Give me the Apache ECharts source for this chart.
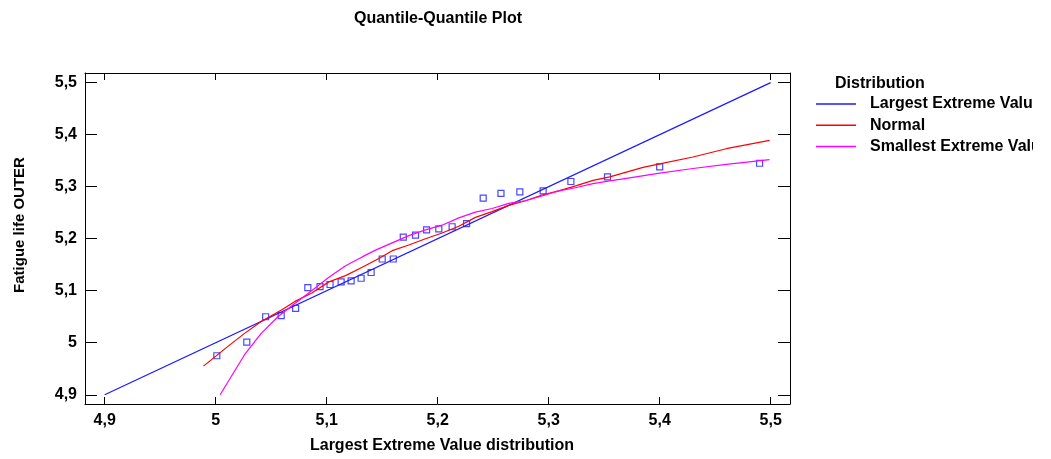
<!DOCTYPE html>
<html>
<head>
<meta charset="utf-8">
<script src="https://cdn.jsdelivr.net/npm/echarts@6/dist/echarts.min.js"></script>
<style>
  html, body { margin: 0; padding: 0; background: #fff; }
  #chart { width: 1051px; height: 459px; }
</style>
</head>
<body>
<div id="chart"></div>
<script>
'use strict';

// tick values (both axes)
const ticks = [4.9, 5.0, 5.1, 5.2, 5.3, 5.4, 5.5];

// observed quantiles (squares)
const obsX = [5.001, 5.028, 5.045, 5.059, 5.072, 5.083, 5.094, 5.103, 5.113, 5.122, 5.131, 5.140,
  5.150, 5.160, 5.169, 5.180, 5.190, 5.201, 5.213, 5.226, 5.241, 5.257, 5.274, 5.295,
  5.320, 5.353, 5.400, 5.490];
const obsY = [4.975, 5.001, 5.050, 5.052, 5.066, 5.106, 5.108, 5.112, 5.117, 5.119, 5.124, 5.135,
  5.161, 5.161, 5.203, 5.207, 5.217, 5.219, 5.223, 5.229, 5.278, 5.287, 5.290, 5.292,
  5.310, 5.319, 5.338, 5.345];

// Largest Extreme Value reference line
const levX = [4.9, 5.5];
const levY = [4.9, 5.5];

// Normal
const normX = [4.989, 5.011, 5.026, 5.041, 5.060, 5.071, 5.087, 5.102, 5.117, 5.132, 5.147,
  5.159, 5.174, 5.189, 5.204, 5.219, 5.234, 5.249, 5.264, 5.279, 5.294, 5.309, 5.325,
  5.340, 5.355, 5.370, 5.385, 5.400, 5.430, 5.460, 5.499];
const normY = [4.955, 4.993, 5.018, 5.041, 5.064, 5.079, 5.096, 5.117, 5.129, 5.145, 5.162,
  5.177, 5.188, 5.200, 5.211, 5.224, 5.241, 5.252, 5.264, 5.273, 5.284, 5.292, 5.302,
  5.312, 5.319, 5.328, 5.337, 5.344, 5.357, 5.373, 5.389];

// Smallest Extreme Value
const sevX = [5.004, 5.014, 5.026, 5.041, 5.056, 5.071, 5.087, 5.102, 5.117, 5.132, 5.144,
  5.159, 5.174, 5.189, 5.204, 5.219, 5.234, 5.249, 5.264, 5.279, 5.294, 5.309, 5.324,
  5.340, 5.355, 5.370, 5.400, 5.430, 5.460, 5.499];
const sevY = [4.900, 4.935, 4.977, 5.018, 5.050, 5.075, 5.101, 5.126, 5.148, 5.165, 5.178,
  5.192, 5.206, 5.217, 5.226, 5.240, 5.251, 5.258, 5.268, 5.273, 5.282, 5.292, 5.298,
  5.306, 5.311, 5.316, 5.326, 5.335, 5.343, 5.352];

const zip = (xs, ys) => xs.map((x, i) => [x, ys[i]]);

const font = 'Liberation Sans, Arial, sans-serif';
const fmt = v => String(Math.round(v * 10) / 10).replace('.', ',');

let instance = echarts.init(document.getElementById('chart'));

const axisBase = {
  type: 'value',
  min: 4.88225,
  max: 5.5174,
  splitLine: { show: false },
  axisLine: { show: true, onZero: false, lineStyle: { color: '#000', width: 1 } },
};
const labelStyle = { fontFamily: font, fontWeight: 'bold', fontSize: 16, color: '#000' };

instance.setOption({
  animation: false,
  backgroundColor: '#fff',
  title: [{
    text: 'Quantile-Quantile Plot',
    left: 354,
    top: 11,
    padding: 0,
    textStyle: labelStyle
  }, {
    text: 'Distribution',
    left: 835,
    top: 76,
    padding: 0,
    textStyle: labelStyle
  }],
  legend: {
    data: ['Largest Extreme Value', 'Normal', 'Smallest Extreme Value'],
    orient: 'vertical',
    left: 816,
    top: 95,
    padding: 0,
    icon: 'rect',
    itemWidth: 40,
    itemHeight: 1.5,
    itemGap: 3.2,
    textStyle: Object.assign({}, labelStyle, { lineHeight: 18, padding: [0, 0, 0, 9] })
  },
  grid: { left: 85, top: 73, right: 261, bottom: 53 },
  xAxis: [Object.assign({}, axisBase, {
    position: 'bottom',
    name: 'Largest Extreme Value distribution',
    nameLocation: 'middle',
    nameGap: 34,
    nameTextStyle: Object.assign({}, labelStyle, { padding: [0, 0, 0, 9] }),
    axisTick: { show: true, inside: true, length: 7, customValues: ticks, lineStyle: { color: '#000' } },
    axisLabel: Object.assign({ customValues: ticks, formatter: fmt, margin: 9 }, labelStyle)
  }), Object.assign({}, axisBase, {
    position: 'top',
    axisTick: { show: true, inside: true, length: 7, customValues: ticks, lineStyle: { color: '#000' } },
    axisLabel: { show: false }
  })],
  yAxis: [Object.assign({}, axisBase, {
    min: 4.88223,
    max: 5.51854,
    position: 'left',
    axisTick: { show: true, inside: true, length: 12, customValues: ticks, lineStyle: { color: '#000' } },
    axisLabel: Object.assign({ customValues: ticks, formatter: fmt, margin: 8 }, labelStyle)
  }), Object.assign({}, axisBase, {
    min: 4.88223,
    max: 5.51854,
    position: 'right',
    axisTick: { show: true, inside: true, length: 12, customValues: ticks, lineStyle: { color: '#000' } },
    axisLabel: { show: false }
  })],
  graphic: [{
    type: 'text',
    x: 20,
    y: 225,
    rotation: Math.PI / 2,
    style: {
      text: 'Fatigue life OUTER',
      font: 'bold 15px ' + font,
      fill: '#000',
      align: 'center',
      verticalAlign: 'middle'
    }
  }, {
    // legend box edge: the original cuts the long names off here
    type: 'rect',
    z: 100,
    shape: { x: 1033, y: 90, width: 18, height: 66 },
    style: { fill: '#fff' }
  }],
  series: [{
    name: 'Largest Extreme Value',
    type: 'line',
    data: zip(levX, levY),
    showSymbol: false,
    lineStyle: { color: '#1a1aff', width: 1.2 },
    itemStyle: { color: '#1a1aff' }
  }, {
    name: 'Normal',
    type: 'line',
    data: zip(normX, normY),
    showSymbol: false,
    lineStyle: { color: '#ff0000', width: 1.2 },
    itemStyle: { color: '#ff0000' }
  }, {
    name: 'Smallest Extreme Value',
    type: 'line',
    data: zip(sevX, sevY),
    showSymbol: false,
    lineStyle: { color: '#ff00ff', width: 1.2 },
    itemStyle: { color: '#ff00ff' }
  }, {
    name: 'data',
    type: 'scatter',
    data: zip(obsX, obsY),
    symbol: 'rect',
    symbolSize: 6,
    itemStyle: { color: 'rgba(0,0,0,0)', borderColor: '#1a1aff', borderWidth: 1.2 }
  }]
});

window.onresize = () => {
  instance.resize();
};
</script>
</body>
</html>
